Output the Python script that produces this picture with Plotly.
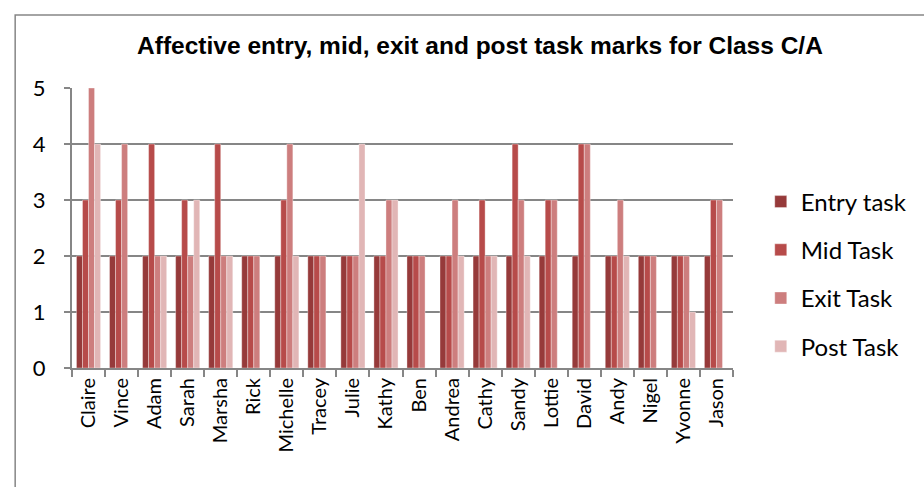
import plotly.graph_objects as go

students = ["Claire", "Vince", "Adam", "Sarah", "Marsha", "Rick", "Michelle", "Tracey", "Julie", "Kathy",
            "Ben", "Andrea", "Cathy", "Sandy", "Lottie", "David", "Andy", "Nigel", "Yvonne", "Jason"]
entry_task = [2, 2, 2, 2, 2, 2, 2, 2, 2, 2, 2, 2, 2, 2, 2, 2, 2, 2, 2, 2]
mid_task   = [3, 3, 4, 3, 4, 2, 3, 2, 2, 2, 2, 2, 3, 4, 3, 4, 2, 2, 2, 3]
exit_task  = [5, 4, 2, 2, 2, 2, 4, 2, 2, 3, 2, 3, 2, 3, 3, 4, 3, 2, 2, 3]
post_task  = [4, 0, 2, 3, 2, 0, 2, 0, 4, 3, 0, 2, 2, 2, 0, 0, 2, 0, 1, 0]

series = [("Entry task", entry_task, "#963a3a"),
          ("Mid Task", mid_task, "#b74b4a"),
          ("Exit Task", exit_task, "#cd7e7e"),
          ("Post Task", post_task, "#e1b6b6")]

fig = go.Figure()
for i, (name, vals, col) in enumerate(series):
    fig.add_trace(go.Bar(
        x=students, y=vals, name=name, legendgroup=name,
        marker=dict(color=col, line=dict(color="rgba(255,255,255,0.45)", width=0.8)),
    ))

fig.update_layout(
    width=924, height=487,
    margin=dict(l=72, r=189, t=88, b=119),
    paper_bgcolor="white", plot_bgcolor="white",
    barmode="group", bargap=0.27, bargroupgap=0,
    title=dict(text="<b>Affective entry, mid, exit and post task marks for Class C/A</b>",
               x=480 / 924, xanchor="center", y=1 - 45 / 487, yanchor="middle",
               font=dict(family="Liberation Sans, Arial", size=24.5, color="black")),
    font=dict(family="Lato, Open Sans, sans-serif", color="black"),
    legend=dict(x=1.042, xanchor="left", xref="paper", y=(368 - 274) / 280, yanchor="middle",
                font=dict(size=24, color="black"), tracegroupgap=14,
                itemwidth=30, bgcolor="rgba(0,0,0,0)"),
    showlegend=True,
)
fig.update_xaxes(
    type="category", tickangle=-90, tickfont=dict(size=20),
    showline=True, linecolor="#868686", linewidth=2,
    ticks="outside", tickson="boundaries", ticklen=7, tickcolor="#868686", tickwidth=2,
    showgrid=False,
)
fig.update_yaxes(
    range=[0, 5], dtick=1, tickfont=dict(size=22),
    showgrid=True, gridcolor="#868686", gridwidth=2,
    showline=True, linecolor="#868686", linewidth=2,
    ticks="outside", ticklen=6, tickcolor="#868686", tickwidth=2,
    ticklabelstandoff=14,
    zeroline=False,
)

# outer chart-area border
fig.add_shape(type="rect", xref="paper", yref="paper",
              x0=-(72 - 15) / 663, x1=(924 - 72 + 40) / 663,
              y0=-(119 + 40) / 280, y1=1 + (88 - 15) / 280,
              line=dict(color="#868686", width=1.5), fillcolor="rgba(0,0,0,0)", layer="below")

fig.write_html("out.html")
